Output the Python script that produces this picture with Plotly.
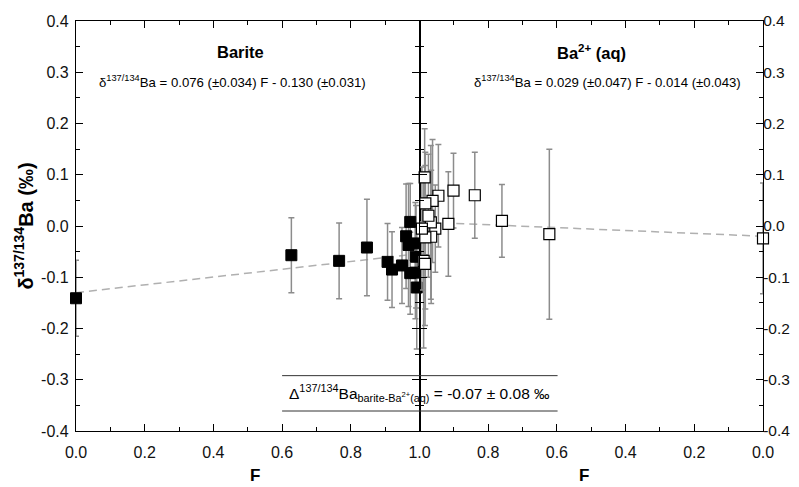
import plotly.graph_objects as go

# Barite (left panel)
F_barite = [0.0, 0.627, 0.766, 0.847, 0.907, 0.920, 0.949, 0.961, 0.968, 0.973, 0.988, 0.990, 0.973, 0.988, 0.992]
d_barite = [-0.141, -0.057, -0.068, -0.042, -0.070, -0.085, -0.077, -0.020, -0.037, 0.008, -0.034, -0.060, -0.092, -0.091, -0.120]
e_barite = [0.074, 0.073, 0.074, 0.094, 0.075, 0.074, 0.074, 0.102, 0.12, 0.075, 0.08, 0.10, 0.08, 0.09, 0.12]

# Ba2+ (aq) (right panel)
F_aq = [0.622, 0.760, 0.839, 0.901, 0.916, 0.945, 0.962, 0.954, 0.967, 0.974, 0.966, 0.985, 0.983, 0.983, 0.988, 0.984, 0.993, 0.0]
d_aq = [-0.016, 0.010, 0.060, 0.069, 0.004, 0.059, 0.049, -0.005, 0.007, 0.020, -0.021, 0.095, 0.044, -0.022, -0.068, -0.074, -0.005, -0.024]
e_aq = [0.166, 0.071, 0.084, 0.073, 0.102, 0.10, 0.12, 0.085, 0.15, 0.12, 0.13, 0.095, 0.10, 0.14, 0.17, 0.12, 0.12, 0.108]

# regression lines
fit_barite_F = [0.0, 1.0]
fit_barite_d = [-0.130, -0.054]
fit_aq_F = [0.0, 1.0]
fit_aq_d = [-0.020, 0.008]

x_ticks_left = [0.0, 0.2, 0.4, 0.6, 0.8, 1.0]
x_ticklabels_left = ["0.0", "0.2", "0.4", "0.6", "0.8", "1.0"]
x_ticks_right = [0.0, 0.2, 0.4, 0.6, 0.8]
x_ticklabels_right = ["0.0", "0.2", "0.4", "0.6", "0.8"]
y_ticks = [-0.4, -0.3, -0.2, -0.1, 0.0, 0.1, 0.2, 0.3, 0.4]
y_ticklabels = ["-0.4", "-0.3", "-0.2", "-0.1", "0.0", "0.1", "0.2", "0.3", "0.4"]

FONT = "Liberation Sans, Arial, sans-serif"
ERR_COL = "#8c8c8c"
FIT_COL = "#b0b0b0"

fig = go.Figure()

fig.add_trace(go.Scatter(x=fit_barite_F, y=fit_barite_d, mode="lines",
                         line=dict(color=FIT_COL, width=1.5, dash="8px,5px"),
                         xaxis="x", yaxis="y", showlegend=False, hoverinfo="skip"))
fig.add_trace(go.Scatter(x=fit_aq_F, y=fit_aq_d, mode="lines",
                         line=dict(color=FIT_COL, width=1.5, dash="8px,5px"),
                         xaxis="x2", yaxis="y2", showlegend=False, hoverinfo="skip"))

fig.add_trace(go.Scatter(x=F_barite, y=d_barite, mode="markers",
                         marker=dict(symbol="square", size=11, color="black",
                                     line=dict(color="black", width=1)),
                         error_y=dict(type="data", array=e_barite, color=ERR_COL,
                                      thickness=1.5, width=3),
                         cliponaxis=False, xaxis="x", yaxis="y", showlegend=False))
fig.add_trace(go.Scatter(x=F_aq, y=d_aq, mode="markers",
                         marker=dict(symbol="square", size=11, color="white",
                                     line=dict(color="black", width=1.2)),
                         error_y=dict(type="data", array=e_aq, color=ERR_COL,
                                      thickness=1.5, width=3),
                         cliponaxis=False, xaxis="x2", yaxis="y2", showlegend=False))

axis_common = dict(showline=True, linecolor="black", linewidth=1.2, mirror="ticks",
                   ticks="inside", ticklen=7, tickwidth=1.2, tickcolor="black",
                   showgrid=False, zeroline=False, automargin=False)
tick_font = dict(family=FONT, size=16, color="#111111")

# the page body has an 8px margin: figure is sized/shifted to compensate
fig.update_layout(
    width=791, height=479,
    margin=dict(l=67.5, r=35.7, t=12.7, b=56),
    paper_bgcolor="white", plot_bgcolor="white",
    xaxis=dict(domain=[0, 0.5], range=[0, 1], anchor="y",
               tickvals=x_ticks_left, ticktext=x_ticklabels_left, ticklabelstandoff=7,
               tickfont=tick_font,
               minor=dict(ticks="inside", ticklen=4, dtick=0.1, tickcolor="black", tickwidth=1),
               **axis_common),
    xaxis2=dict(domain=[0.5, 1], range=[1, 0], anchor="y2",
                tickvals=x_ticks_right, ticktext=x_ticklabels_right, ticklabelstandoff=7,
                tickfont=tick_font,
                minor=dict(ticks="inside", ticklen=4, dtick=0.1, tickcolor="black", tickwidth=1),
                **axis_common),
    yaxis=dict(range=[-0.4, 0.4], anchor="x", tickvals=y_ticks, ticktext=y_ticklabels,
               ticklabelstandoff=3, tickfont=tick_font,
               title=dict(text="<b>δ<sup>137/134</sup>Ba (‰)</b>", standoff=2,
                          font=dict(family=FONT, size=20, color="black")),
               minor=dict(ticks="inside", ticklen=4, dtick=0.05, tickcolor="black", tickwidth=1),
               **axis_common),
    yaxis2=dict(range=[-0.4, 0.4], anchor="x2", side="right", tickvals=y_ticks,
                ticktext=y_ticklabels, ticklabelstandoff=-4,
                tickfont=dict(family=FONT, size=15.5, color="#111111"),
                minor=dict(ticks="inside", ticklen=4, dtick=0.05, tickcolor="black", tickwidth=1),
                **axis_common),
)

ann = []
ann.append(dict(text="<b>Barite</b>", x=0.478, y=0.339, xref="x", yref="y", showarrow=False,
                font=dict(family=FONT, size=16.5, color="black")))
ann.append(dict(text="<b>Ba<sup>2+</sup> (aq)</b>", x=0.498, y=0.339, xref="x2", yref="y2",
                showarrow=False, font=dict(family=FONT, size=16.5, color="black")))
ann.append(dict(text="δ<sup>137/134</sup>Ba = 0.076 (±0.034) F - 0.130 (±0.031)",
                x=0.457, y=0.281, xref="x", yref="y", showarrow=False,
                font=dict(family=FONT, size=13.2, color="black")))
ann.append(dict(text="δ<sup>137/134</sup>Ba = 0.029 (±0.047) F - 0.014 (±0.043)",
                x=0.453, y=0.281, xref="x2", yref="y2", showarrow=False,
                font=dict(family=FONT, size=13.2, color="black")))
ann.append(dict(text="Δ<sup>137/134</sup>Ba<sub>barite-Ba<sup>2+</sup>(aq)</sub> = -0.07 ± 0.08 ‰",
                x=0.5, y=-0.3255, xref="paper", yref="y", showarrow=False,
                font=dict(family=FONT, size=15.5, color="black")))
ann.append(dict(text="<b>F</b>", x=0.25, y=-0.1365, xref="paper", yref="paper",
                showarrow=False, yanchor="bottom",
                font=dict(family=FONT, size=17, color="black")))
ann.append(dict(text="<b>F</b>", x=0.75, y=-0.1365, xref="paper", yref="paper",
                showarrow=False, yanchor="bottom",
                font=dict(family=FONT, size=17, color="black")))
fig.update_layout(annotations=ann)

fig.add_shape(type="line", xref="paper", yref="y", x0=0.3, x1=0.701, y0=-0.292, y1=-0.292,
              line=dict(color="#333333", width=1))
fig.add_shape(type="line", xref="paper", yref="y", x0=0.3, x1=0.701, y0=-0.361, y1=-0.361,
              line=dict(color="#333333", width=1))

fig.write_html("out.html")
